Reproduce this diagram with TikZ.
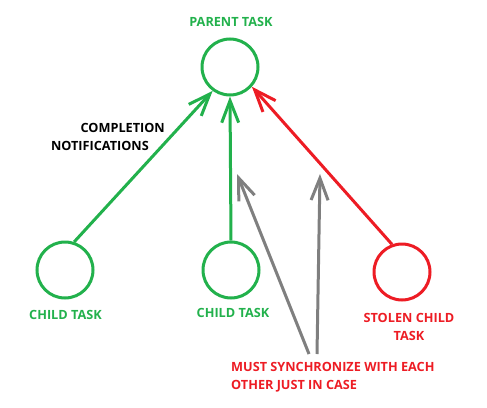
\documentclass[tikz,border=0pt]{standalone}
\usepackage{fontspec}
\setmainfont{Open Sans}
\usetikzlibrary{arrows.meta}
\definecolor{pgreen}{RGB}{34,177,76}
\definecolor{pred}{RGB}{237,28,36}
\definecolor{pgray}{RGB}{127,127,127}
\tikzset{
  task/.style={circle,draw=#1,line width=3pt,minimum size=56pt,inner sep=0pt},
  lbl/.style={text=#1,font=\fontsize{12.7}{18}\selectfont\bfseries,inner sep=0pt},
  conn/.style={draw=#1,line width=3pt,-{Straight Barb[length=22pt,width=17pt,line width=3pt]}},
}
\begin{document}
\begin{tikzpicture}[x=1pt,y=-1pt]
\useasboundingbox (0,0) rectangle (487,407);
\node[task=pgreen] (parent) at (230,67) {};
\node[task=pgreen] (c1) at (65,270) {};
\node[task=pgreen] (c2) at (231,270) {};
\node[task=pred] (st) at (402,272) {};
\node[lbl=pgreen] (lp) at (231,22) {PARENT TASK};
\node[lbl=pgreen] (l1) at (65.5,314.5) {CHILD TASK};
\node[lbl=pgreen] (l2) at (233,313) {CHILD TASK};
\node[lbl=pred,align=center] (ls) at (409,327) {STOLEN CHILD\\TASK};
\node[lbl=black,anchor=north east] (lc1) at (165,123) {COMPLETION};
\node[lbl=black,anchor=north east] (lc2) at (149,141) {NOTIFICATIONS};
\node[lbl=pred,align=left,anchor=north west] (lm) at (231,362) {MUST SYNCHRONIZE WITH EACH\\OTHER JUST IN CASE};
\coordinate (g1s) at (309,354);
\coordinate (g1e) at (237,174);
\coordinate (g2s) at (317,354);
\coordinate (g2e) at (320,174);
\draw[conn=pgreen] (c1.72) -- (parent.234);
\draw[conn=pgreen] (c2.north) -- (parent.south);
\draw[conn=pred] (st.110) -- (parent.318);
\draw[conn=pgray] (g1s) -- (g1e);
\draw[conn=pgray] (g2s) -- (g2e);
\end{tikzpicture}
\end{document}
